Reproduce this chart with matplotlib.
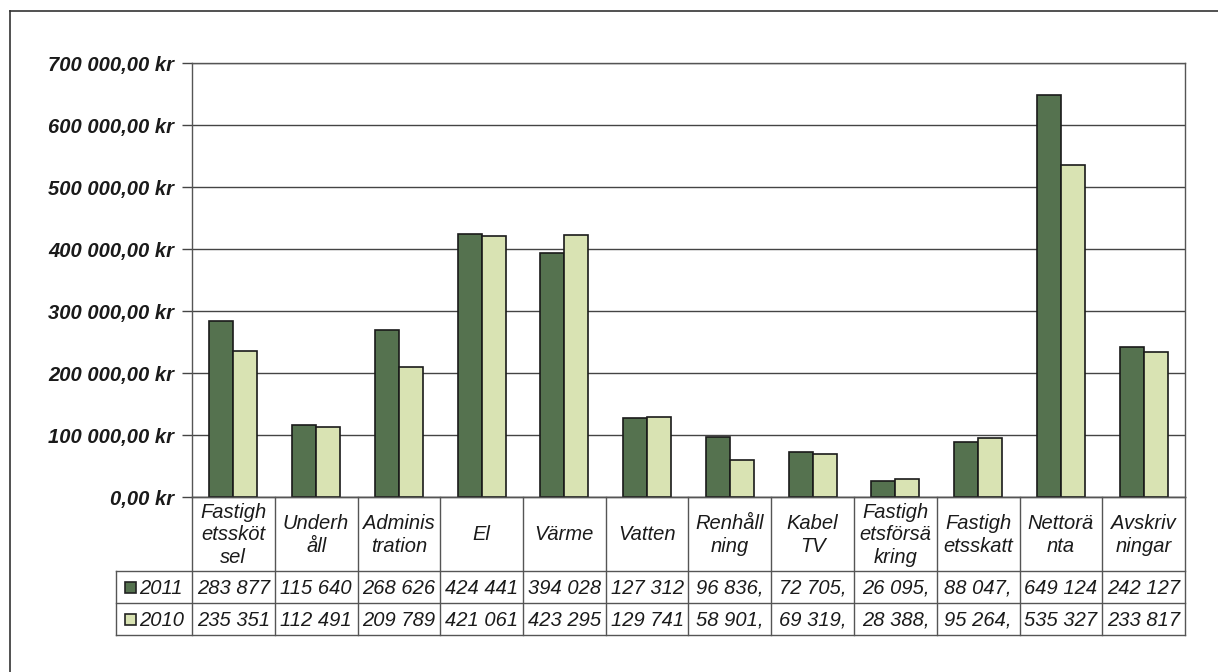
import numpy as np
import matplotlib.pyplot as plt
from matplotlib.lines import Line2D
from matplotlib.patches import Rectangle

plt.rcParams['font.family'] = ['Liberation Sans', 'DejaVu Sans']

categories = ["Fastigh\netssköt\nsel", "Underh\nåll", "Adminis\ntration", "El", "Värme",
              "Vatten", "Renhåll\nning", "Kabel\nTV", "Fastigh\netsförsä\nkring",
              "Fastigh\netsskatt", "Nettorä\nnta", "Avskriv\nningar"]
v2011 = [283877, 115640, 268626, 424441, 394028, 127312, 96836, 72705, 26095, 88047, 649124, 242127]
v2010 = [235351, 112491, 209789, 421061, 423295, 129741, 58901, 69319, 28388, 95264, 535327, 233817]
series = ["2011", "2010"]
colors = ["#55724f", "#d9e3b3"]
yticks = [0, 100000, 200000, 300000, 400000, 500000, 600000, 700000]


def kr(v):
    s = "{:,.2f}".format(v).replace(",", " ").replace(".", ",")
    return s + " kr"


W, H = 1218, 672
fig = plt.figure(figsize=(W / 100, H / 100), dpi=100)


def fx(px):
    return px / W


def fy(py):
    return 1 - py / H


# outer frame
fig.add_artist(Line2D([fx(10), fx(10)], [fy(11), fy(672)], color="#333333", lw=1.2))
fig.add_artist(Line2D([fx(10), fx(1218)], [fy(11), fy(11)], color="#333333", lw=1.2))

left, right, top, bottom = 192, 1185, 63, 497
ax = fig.add_axes([fx(left), fy(bottom), fx(right - left), (bottom - top) / H])

x = np.arange(len(categories))
w = 0.29
ax.bar(x - w / 2, v2011, w, color=colors[0], edgecolor="#1a1a1a", lw=1.2, zorder=3)
ax.bar(x + w / 2, v2010, w, color=colors[1], edgecolor="#1a1a1a", lw=1.2, zorder=3)

ax.set_xlim(-0.5, len(categories) - 0.5)
ax.set_ylim(0, 700000)
ax.set_yticks(yticks)
ax.set_yticklabels([kr(v) for v in yticks], fontsize=14.5, fontweight="bold", style="italic", color="#1a1a1a")
ax.tick_params(axis="y", length=7, width=1, color="#444444", pad=6)
ax.set_xticks([])
ax.grid(axis="y", color="#444444", lw=1, zorder=0)
for s in ax.spines.values():
    s.set_color("#555555")
    s.set_linewidth(1)

# data table under the chart
row_y = [497, 571, 603, 635]
tleft = 116
lc = "#555555"
for i, yy in enumerate(row_y):
    x0 = left if i == 0 else tleft
    fig.add_artist(Line2D([fx(x0), fx(right)], [fy(yy), fy(yy)], color=lc, lw=1))
fig.add_artist(Line2D([fx(tleft), fx(tleft)], [fy(row_y[1]), fy(row_y[3])], color=lc, lw=1))
col_w = (right - left) / len(categories)
for i in range(len(categories) + 1):
    xx = left + i * col_w
    fig.add_artist(Line2D([fx(xx), fx(xx)], [fy(row_y[0]), fy(row_y[3])], color=lc, lw=1))

for i, cat in enumerate(categories):
    cx = left + (i + 0.5) * col_w
    fig.text(fx(cx), fy((row_y[0] + row_y[1]) / 2 + 1), cat, ha="center", va="center",
             fontsize=14.5, style="italic", color="#1a1a1a", linespacing=1.25)
    for r, vals in enumerate([v2011, v2010]):
        fig.text(fx(cx), fy((row_y[r + 1] + row_y[r + 2]) / 2 + 1), kr(vals[i])[:7],
                 ha="center", va="center", fontsize=14.5, style="italic", color="#1a1a1a")

for r, name in enumerate(series):
    cy = (row_y[r + 1] + row_y[r + 2]) / 2
    fig.add_artist(Rectangle((fx(125), fy(cy + 5.5)), fx(11), 11 / H, facecolor=colors[r],
                             edgecolor="#222222", lw=1.2))
    fig.text(fx(139), fy(cy + 1), name, ha="left", va="center", fontsize=14.5,
             style="italic", color="#1a1a1a")

fig.savefig("out.png", dpi=100, facecolor="white")
